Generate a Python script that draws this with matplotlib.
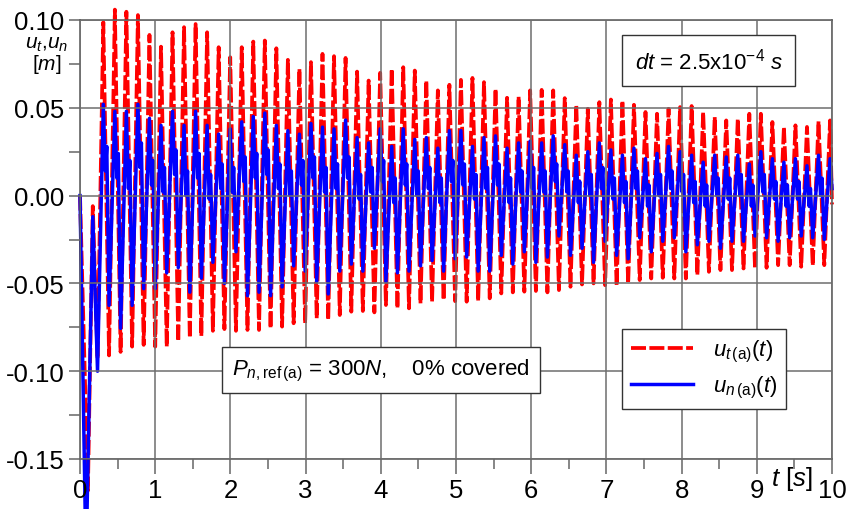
import numpy as np
import matplotlib
matplotlib.use("Agg")
import matplotlib.pyplot as plt
from matplotlib.ticker import MultipleLocator

plt.rcParams['font.family'] = ['Liberation Sans', 'DejaVu Sans']
plt.rcParams['mathtext.fontset'] = 'custom'
plt.rcParams['mathtext.rm'] = 'Liberation Sans'
plt.rcParams['mathtext.it'] = 'Liberation Sans:italic'
plt.rcParams['mathtext.bf'] = 'Liberation Sans:bold'

# oscillation period [s], first trough / first peak time
period = 0.1534
first_trough = 0.233
first_peak = 0.31

# start-up transient (before the regular oscillation)
ut_start_t = [0.0, 0.105, 0.17]
ut_start = [0.0, -0.168, -0.006]
un_start_t = [0.0, 0.08, 0.17]
un_start = [0.0, -0.21, -0.012]

# u_t: peak and trough values of each cycle [m]
ut_peaks = [0.0987, 0.1059, 0.1047, 0.1028, 0.0915, 0.0848, 0.0930, 0.0959, 0.0977, 0.0930, 0.0845, 0.0788, 0.0845, 0.0877,
            0.0883, 0.0839, 0.0773, 0.0722, 0.0760, 0.0807, 0.0794, 0.0784, 0.0706, 0.0655, 0.0699, 0.0722, 0.0731, 0.0712,
            0.0655, 0.0599, 0.0631, 0.0659, 0.0670, 0.0646, 0.0608, 0.0557, 0.0564, 0.0599, 0.0602,
            0.0599, 0.0555, 0.0517, 0.0494, 0.0532, 0.0547, 0.0541, 0.0517, 0.0476, 0.0466, 0.0494, 0.0504, 0.0510, 0.0476,
            0.0448, 0.0428, 0.0438, 0.0466, 0.0466, 0.0419, 0.0391, 0.0400, 0.0391, 0.0423, 0.0428]
ut_troughs = [-0.093, -0.091, -0.089, -0.086, -0.085, -0.086, -0.086, -0.083, -0.081, -0.080, -0.077, -0.076,
              -0.077, -0.0765, -0.0765, -0.0756, -0.0746, -0.0727, -0.0727, -0.0699, -0.0708, -0.0680, -0.0661, -0.0657,
              -0.0665, -0.0623, -0.0642, -0.0642, -0.0614, -0.0604, -0.0595, -0.0601, -0.0604, -0.0601, -0.0585, -0.0557,
              -0.0551, -0.0547, -0.0543, -0.0551, -0.0538,
              -0.0519, -0.0506, -0.0500, -0.0510, -0.0513, -0.0500, -0.0481, -0.0472, -0.0468, -0.0472, -0.0472, -0.0453,
              -0.0434, -0.0424, -0.0424, -0.0415, -0.0415, -0.0411, -0.0396, -0.0396, -0.0405, -0.0399, -0.0396]
ut_end = -0.005

# u_n: peak, trough and the kink after each peak [m]
un_peaks = [0.052, 0.048, 0.048, 0.052, 0.044, 0.040, 0.048, 0.040, 0.048, 0.040, 0.035, 0.038, 0.042, 0.045,
            0.047, 0.040, 0.037, 0.035, 0.041, 0.039, 0.038, 0.043, 0.033, 0.030, 0.038, 0.028, 0.038, 0.032, 0.033,
            0.027, 0.037, 0.037, 0.028, 0.033, 0.034, 0.027, 0.030, 0.031, 0.030,
            0.034, 0.029, 0.023, 0.025, 0.030, 0.026, 0.023, 0.027, 0.021, 0.024, 0.028, 0.025, 0.023, 0.019, 0.023,
            0.022, 0.023, 0.018, 0.025, 0.021, 0.019, 0.021, 0.017, 0.023, 0.021]
un_troughs = [-0.100, -0.0625, -0.0756, -0.0625, -0.053, -0.053, -0.044, -0.041, -0.055, -0.047, -0.038, -0.050,
              -0.032, -0.057, -0.055, -0.057, -0.052, -0.040, -0.043, -0.049, -0.056, -0.043, -0.039, -0.043, -0.030,
              -0.049, -0.044, -0.043, -0.040, -0.037, -0.043, -0.036, -0.035, -0.043, -0.043, -0.034, -0.039, -0.032,
              -0.038, -0.035,
              -0.023, -0.034, -0.030, -0.038, -0.026, -0.034, -0.036, -0.024, -0.032, -0.026, -0.024, -0.032, -0.028,
              -0.026, -0.030, -0.026, -0.026, -0.023, -0.024, -0.026, -0.024, -0.023, -0.024, -0.025]
un_dips = [0.014, 0.010, 0.004, 0.016, 0.006, 0.002, 0.012, 0.000, 0.010, -0.002, 0.004, 0.002, 0.008, 0.010,
           0.012, 0.004, 0.000, 0.006, 0.010, 0.002, 0.004, 0.010, -0.002, 0.002, 0.008, -0.004, 0.006, 0.000,
           0.004, -0.004, 0.008, 0.006, -0.002, 0.004, 0.006, -0.004, 0.002, 0.004, 0.002,
           0.008, 0.002, -0.004, 0.000, 0.004, -0.002, -0.004, 0.004, -0.006, 0.000, 0.004, 0.002, -0.004, -0.006,
           0.000, -0.002, 0.000, -0.006, 0.002, -0.002, -0.006, -0.002, -0.006, 0.000]
un_bumps = [0.028, 0.024, 0.020, 0.030, 0.020, 0.016, 0.026, 0.014, 0.024, 0.012, 0.018, 0.016, 0.022, 0.024,
            0.026, 0.018, 0.014, 0.020, 0.022, 0.016, 0.018, 0.022, 0.012, 0.016, 0.020, 0.010, 0.018, 0.014,
            0.016, 0.010, 0.020, 0.018, 0.012, 0.016, 0.018, 0.010, 0.014, 0.016, 0.014,
            0.018, 0.014, 0.008, 0.012, 0.016, 0.010, 0.008, 0.014, 0.006, 0.012, 0.014, 0.012, 0.008, 0.006,
            0.010, 0.010, 0.012, 0.006, 0.012, 0.008, 0.006, 0.008, 0.004, 0.010]
un_end = 0.004

n = len(ut_peaks)
t_tr = first_trough + np.arange(n) * period
t_pk = first_peak + np.arange(n) * period

# u_t line: transient, then trough/peak pairs
ut_t = np.concatenate([ut_start_t, np.column_stack([t_tr, t_pk]).ravel(), [10.0]])
ut = np.concatenate([ut_start, np.column_stack([ut_troughs, ut_peaks]).ravel(), [ut_end]])

# u_n line: trough, peak, dip, bump per cycle
m = len(un_dips)
un_cyc_t = np.column_stack([t_tr[:m], t_pk[:m], t_pk[:m] + 0.18 * period, t_pk[:m] + 0.30 * period]).ravel()
un_cyc = np.column_stack([un_troughs[:m], un_peaks[:m], un_dips, un_bumps]).ravel()
un_t = np.concatenate([un_start_t, un_cyc_t, [t_tr[-1], t_pk[-1], 10.0]])
un = np.concatenate([un_start, un_cyc, [un_troughs[-1], un_peaks[-1], un_end]])

fig = plt.figure(figsize=(8.47, 5.10), dpi=100)
ax = fig.add_axes([80 / 847, 1 - 460 / 510, 752 / 847, 439 / 510])

ax.plot(ut_t, ut, color='#ff0000', lw=2.7, dashes=(4.0, 0.9), clip_on=False,
        label=r'$u_{t\,\mathrm{(a)}}(t)$')
ax.plot(un_t, un, color='#0000ff', lw=2.5, clip_on=False,
        label=r'$u_{n\,\mathrm{(a)}}(t)$')

ax.set_xlim(0, 10)
ax.set_ylim(-0.15, 0.10)
ax.xaxis.set_minor_locator(MultipleLocator(0.5))
ax.yaxis.set_minor_locator(MultipleLocator(0.025))
ax.set_yticks(np.arange(-0.15, 0.101, 0.05))
ax.set_yticklabels(['-0.15', '-0.10', '-0.05', '0.00', '0.05', '0.10'])
ax.set_xticks(range(11))
ax.set_xticklabels([str(i) for i in range(11)])

ax.set_axisbelow(False)
ax.grid(True, which='major', color='#6e6e6e', lw=1.1)
for s in ax.spines.values():
    s.set_color('#555555')
    s.set_linewidth(1.1)
ax.tick_params(axis='both', which='both', colors='#666666', labelcolor='black', labelsize=18.5, width=1.1)
ax.tick_params(axis='x', which='major', length=11, pad=3)
ax.tick_params(axis='x', which='minor', length=7)
ax.tick_params(axis='y', which='both', length=8, pad=3)

fig.text(47 / 847, 1 - 45 / 510, r'$u_t$,$u_n$', fontsize=15, ha='center', va='center')
fig.text(47 / 847, 1 - 64 / 510, r'[$m$]', fontsize=15, ha='center', va='center')
fig.text(792 / 847, 1 - 479 / 510, r'$t$ [$s$]', fontsize=18.5, ha='center', va='center')

ax.text(8.36, 0.077, r'$dt$ = 2.5x10$^{\mathrm{-4}}$ $s$', fontsize=16, ha='center', va='center',
        bbox=dict(boxstyle='square,pad=0.55', fc='white', ec='#333333', lw=1.0), zorder=6)
ax.text(4.0, -0.0994, r'$P_{n,\mathrm{ref\,(a)}}$ = 300$N$,    0% covered', fontsize=16,
        ha='center', va='center',
        bbox=dict(boxstyle='square,pad=0.45', fc='white', ec='#333333', lw=1.0), zorder=6)

leg = ax.legend(loc='lower left', bbox_to_anchor=(542 / 752, 50 / 439), borderaxespad=0, fontsize=16,
                frameon=True, fancybox=False, edgecolor='#333333', framealpha=1, handlelength=2.8,
                borderpad=0.4, labelspacing=0.45, handletextpad=0.9)
leg.get_frame().set_linewidth(1.0)
leg.set_zorder(7)

fig.savefig('out.png', dpi=100)
